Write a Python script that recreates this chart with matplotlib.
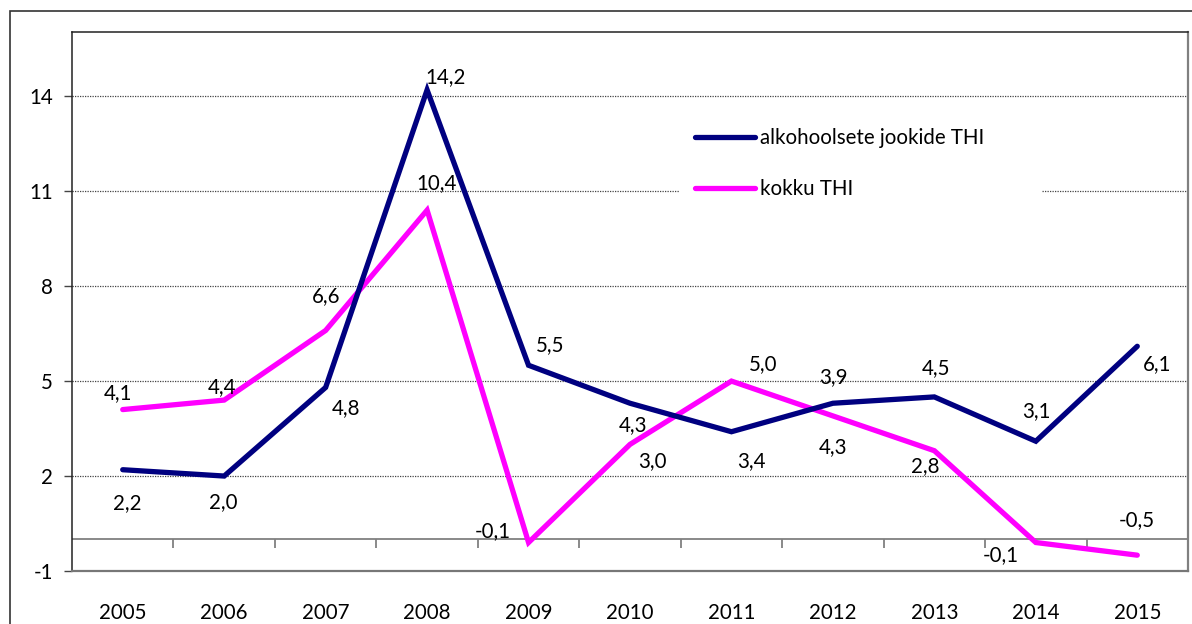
import matplotlib
matplotlib.use("Agg")
import matplotlib.pyplot as plt
from matplotlib.patches import Rectangle
import numpy as np

# ---- data ----
years = ["2005", "2006", "2007", "2008", "2009", "2010", "2011", "2012", "2013", "2014", "2015"]
alko = [2.2, 2.0, 4.8, 14.2, 5.5, 4.3, 3.4, 4.3, 4.5, 3.1, 6.1]
kokku = [4.1, 4.4, 6.6, 10.4, -0.1, 3.0, 5.0, 3.9, 2.8, -0.1, -0.5]
alko_labels = ["2,2", "2,0", "4,8", "14,2", "5,5", "4,3", "3,4", "4,3", "4,5", "3,1", "6,1"]
kokku_labels = ["4,1", "4,4", "6,6", "10,4", "-0,1", "3,0", "5,0", "3,9", "2,8", "-0,1", "-0,5"]
yticks = [-1, 2, 5, 8, 11, 14]
series_names = ["alkohoolsete jookide THI", "kokku THI"]

# label offsets (pixels, dx right, dy up) - styling
alko_off = [(5, -33), (-1, -26), (20, -21), (18, 13), (22, 20), (3, -22),
            (20, -29), (0, -44), (2, 29), (1, 30), (20, -18)]
kokku_off = [(-5, 16), (-2, 13), (0, 34), (9, 27), (-36, 11), (22, -17),
             (32, 17), (0, 39), (-9, -15), (-35, -13), (0, 35)]

W, H = 1192, 624
fig = plt.figure(figsize=(W / 100, H / 100), dpi=100)
plt.rcParams['font.family'] = ['Lato', 'DejaVu Sans']
FS = 14.8

# outer frame
fig.patches.append(Rectangle((10 / W, -0.1), 1.2, 1 - 11 / H + 0.1, transform=fig.transFigure,
                             fill=False, edgecolor='#333333', linewidth=1.2))

left, right = 72 / W, 1188 / W
bottom, top = 1 - 571 / H, 1 - 32.3 / H
ax = fig.add_axes([left, bottom, right - left, top - bottom])

x = np.arange(len(years))
ax.set_xlim(-0.5, len(years) - 0.5)
ax.set_ylim(-1, 16.02)

# grid
for yv in yticks:
    ax.axhline(yv, color='#444444', linewidth=0.9, linestyle=(0, (1, 1)), zorder=1)
# zero line with category boundary ticks
ax.axhline(0, color='#808080', linewidth=1.3, zorder=2)
bounds = np.arange(len(years) - 1) + 0.5
ax.vlines(bounds, -0.26, 0, color='#808080', linewidth=1.3, zorder=2)

ax.plot(x, alko, color='#000080', linewidth=3.8, solid_capstyle='round',
        solid_joinstyle='miter', label=series_names[0], zorder=4)
ax.plot(x, kokku, color='#FF00FF', linewidth=3.8, solid_capstyle='round',
        solid_joinstyle='miter', label=series_names[1], zorder=3)

for xi, v, t, (dx, dy) in zip(x, alko, alko_labels, alko_off):
    ax.annotate(t, (xi, v), xytext=(dx * 0.72, dy * 0.72), textcoords='offset points',
                ha='center', va='center', fontsize=FS, color='black', zorder=5)
for xi, v, t, (dx, dy) in zip(x, kokku, kokku_labels, kokku_off):
    ax.annotate(t, (xi, v), xytext=(dx * 0.72, dy * 0.72), textcoords='offset points',
                ha='center', va='center', fontsize=FS, color='black', zorder=5)

ax.set_yticks(yticks)
ax.set_yticklabels([str(v) for v in yticks], fontsize=FS)
ax.tick_params(axis='y', direction='out', length=5.8, width=1, color='#444444', pad=8)
ax.set_xticks(x)
ax.set_xticklabels(years, fontsize=FS)
ax.tick_params(axis='x', length=0, pad=23)

for s in ['left', 'top']:
    ax.spines[s].set_color('#222222')
    ax.spines[s].set_linewidth(1.1)
ax.spines['right'].set_color('#808080')
ax.spines['right'].set_linewidth(1.6)
ax.spines['bottom'].set_color('#777777')
ax.spines['bottom'].set_linewidth(1.6)

lx0, lx1, ly0, ly1 = 680, 1042, 113, 213
leg = ax.legend(loc='upper left',
                bbox_to_anchor=(lx0 / W, 1 - ly1 / H, (lx1 - lx0) / W, (ly1 - ly0) / H),
                bbox_transform=fig.transFigure, mode='expand',
                fontsize=FS, frameon=True, facecolor='white', edgecolor='none', framealpha=1,
                handlelength=2.9, handletextpad=0.25, labelspacing=1.5, borderpad=0.75,
                borderaxespad=0, fancybox=False)
leg.set_zorder(6)
for line in leg.get_lines():
    line.set_linewidth(3.8)

fig.savefig("out.png", dpi=100)
